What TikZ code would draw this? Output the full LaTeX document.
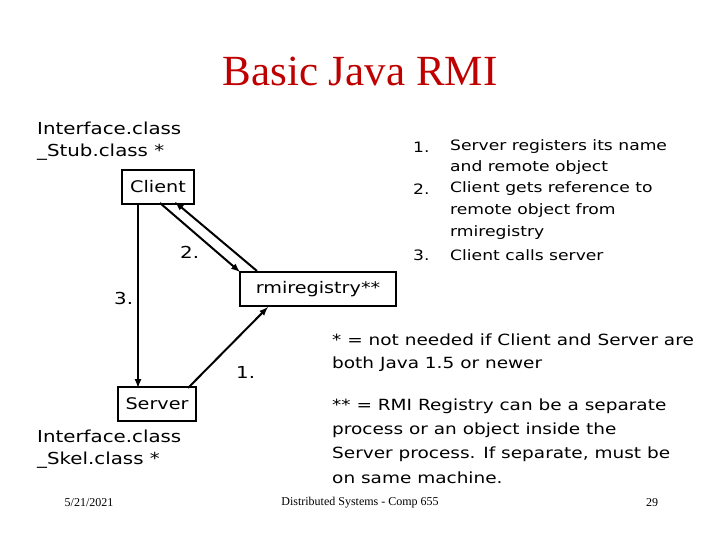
\documentclass[tikz,border=0pt]{standalone}
\usepackage{fontspec}
\setmainfont{DejaVu Sans}[FakeStretch=1.2]
\newfontfamily\ttl{Liberation Serif}
\begin{document}
\begin{tikzpicture}[x=1pt,y=-1pt,
  box/.style={draw,line width=2.2pt,inner sep=0pt,minimum height=34pt,font=\fontsize{16}{16}\selectfont},
  arr/.style={-latex,line width=2pt},
  txt/.style={anchor=west,inner sep=0pt,font=\fontsize{16.5}{16.5}\selectfont},
  bt/.style={anchor=west,inner sep=0pt,font=\fontsize{15.4}{15.4}\selectfont},
  sm/.style={anchor=west,inner sep=0pt,font=\fontsize{14.3}{14.3}\selectfont}]
\useasboundingbox (0,0) rectangle (720,540);
\node[font=\ttl\fontsize{43}{43}\selectfont,text=red!75!black] (title) at (360,71) {Basic Java RMI};
\node[box,minimum width=72pt] (client) at (158,187) {Client};
\node[box,minimum width=156pt] (rmi) at (318,289) {rmiregistry**};
\node[box,minimum width=78pt] (server) at (157,404) {Server};
\node[txt] (i1) at (37,128) {Interface.class};
\node[txt] (s1) at (37,152) {\_Stub.class *};
\node[txt] (i2) at (37,436) {Interface.class};
\node[txt] (s2) at (37,460) {\_Skel.class *};
\coordinate (c1) at (160,203); \coordinate (r1) at (240,272);
\coordinate (r2) at (257,271); \coordinate (c2) at (175,202);
\coordinate (c3) at (138,204); \coordinate (sv3) at (138,388);
\coordinate (sv1) at (188,388); \coordinate (r3) at (268,307);
\draw[arr] (c1) -- (r1);
\draw[arr] (r2) -- (c2);
\draw[arr] (c3) -- (sv3);
\draw[arr] (sv1) -- (r3);
\node[txt] (l2) at (180,252) {2.};
\node[txt] (l3) at (114,298) {3.};
\node[txt] (l1) at (236,372) {1.};
\node[sm] (n1) at (413,147) {1.};
\node[sm] (n2) at (413,189) {2.};
\node[sm] (n3) at (413,255) {3.};
\node[sm] (t1) at (450,147) {Server registers its name};
\node[sm] (t2) at (450,168) {and remote object};
\node[sm] (t3) at (450,189) {Client gets reference to};
\node[sm] (t4) at (450,211) {remote object from};
\node[sm] (t5) at (450,233) {rmiregistry};
\node[sm] (t6) at (450,255) {Client calls server};
\node[bt] (a1) at (332,340) {* = not needed if Client and Server are};
\node[bt] (a2) at (332,364) {both Java 1.5 or newer};
\node[bt] (b1) at (332,406) {** = RMI Registry can be a separate};
\node[bt] (b2) at (332,430) {process or an object inside the};
\node[bt] (b3) at (332,454) {Server process. If separate, must be};
\node[bt] (b4) at (332,478) {on same machine.};
\node[font=\ttl\fontsize{12}{12}\selectfont] (f1) at (89,503) {5/21/2021};
\node[font=\ttl\fontsize{12}{12}\selectfont] (f2) at (360,503) {Distributed Systems - Comp 655};
\node[font=\ttl\fontsize{12}{12}\selectfont] (f3) at (652,503) {29};
\end{tikzpicture}
\end{document}
